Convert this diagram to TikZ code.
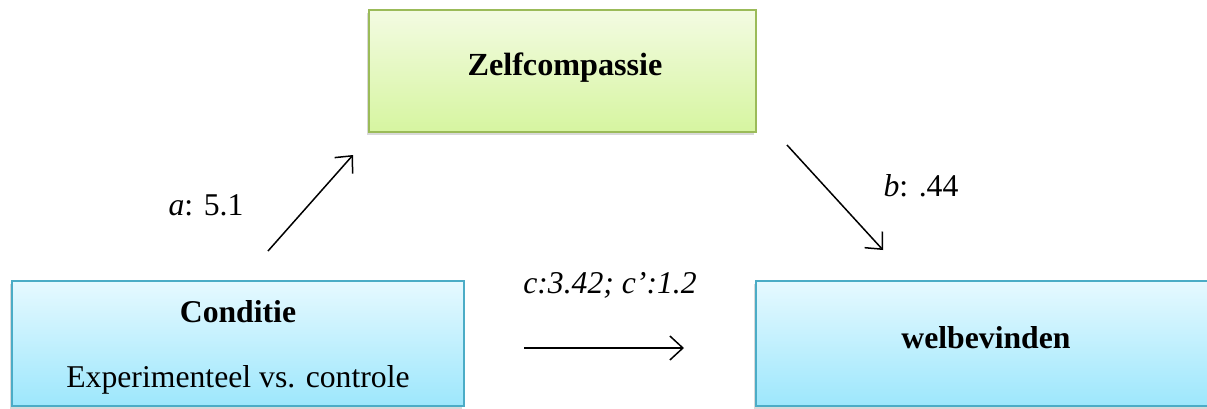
\documentclass[tikz,border=0pt]{standalone}
\usepackage{fontspec}
\setmainfont{Liberation Serif}
\usetikzlibrary{shadows,arrows.meta}
\definecolor{gTop}{HTML}{F3FBE2}
\definecolor{gBot}{HTML}{D6F5A0}
\definecolor{gBorder}{HTML}{9BBB59}
\definecolor{bTop}{HTML}{E6F9FF}
\definecolor{bBot}{HTML}{9DE7FC}
\definecolor{bBorder}{HTML}{4BACC6}
\tikzset{
  greenbox/.style={draw=gBorder, line width=2pt, top color=gTop, bottom color=gBot,
    drop shadow={shadow xshift=-2pt, shadow yshift=-3pt, opacity=0.3}, inner sep=0pt},
  bluebox/.style={draw=bBorder, line width=2pt, top color=bTop, bottom color=bBot,
    drop shadow={shadow xshift=-2pt, shadow yshift=-3pt, opacity=0.3}, inner sep=0pt},
  lbl/.style={font=\fontsize{31.7}{36}\selectfont, inner sep=0pt},
  conn/.style={line width=1.5pt, -{Straight Barb[length=13pt, width=24pt, line width=1.5pt]}}
}
\begin{document}
\begin{tikzpicture}[x=1pt, y=-1pt]
\useasboundingbox (0,0) rectangle (1207,408);
\node[greenbox, minimum width=387pt, minimum height=122pt] (zelf) at (562,71) {};
\node[lbl, font=\fontsize{32.2}{36}\selectfont\bfseries] (zelft) at (565,68) {Zelfcompassie};
\node[bluebox, minimum width=452pt, minimum height=125pt] (cond) at (238,343.5) {};
\node[lbl, font=\fontsize{31.7}{36}\selectfont\bfseries] (condt) at (238,312) {Conditie};
\node[lbl] (condsub) at (238,380) {Experimenteel vs. controle};
\node[bluebox, minimum width=460pt, minimum height=125pt] (welb) at (986,343.5) {};
\node[lbl, font=\fontsize{31.7}{36}\selectfont\bfseries] (welbt) at (986,338) {welbevinden};
\coordinate (a1) at (268,251);
\coordinate (a2) at (353,155);
\coordinate (b1) at (787,145);
\coordinate (b2) at (883,250);
\coordinate (c1) at (524,348);
\coordinate (c2) at (684,348);
\draw[conn] (a1) -- (a2);
\draw[conn] (b1) -- (b2);
\draw[conn] (c1) -- (c2);
\node[lbl] (alab) at (206,205) {\textit{a}: 5.1};
\node[lbl] (blab) at (921,186) {\textit{b}: .44};
\node[lbl] (clab) at (610,285) {\textit{c:3.42; c’:1.2}};
\end{tikzpicture}
\end{document}
